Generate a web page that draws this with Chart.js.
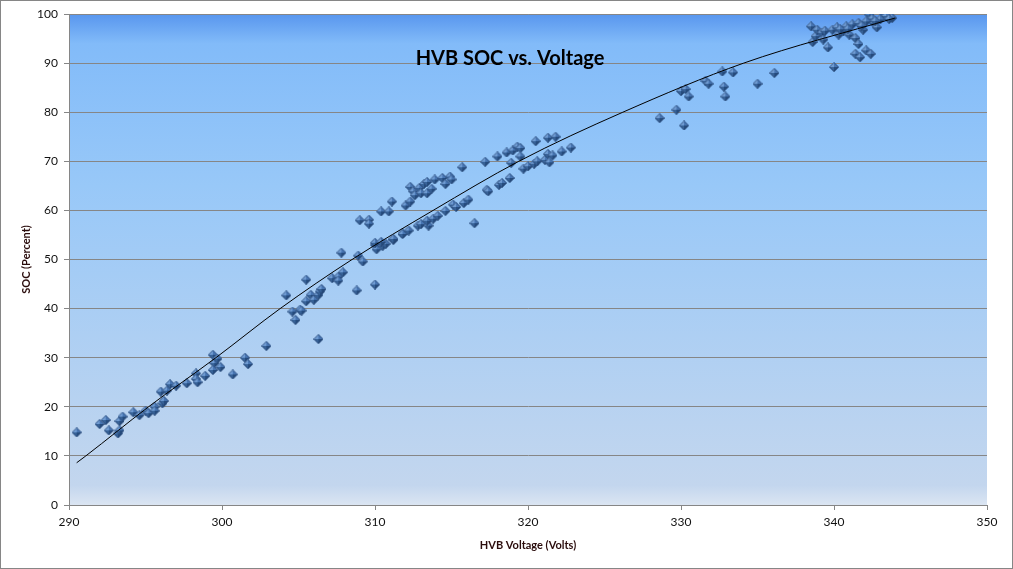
<!DOCTYPE html>
<html>
<head>
<meta charset="utf-8">
<title>HVB SOC vs. Voltage</title>
<script src="https://cdn.jsdelivr.net/npm/chart.js@4/dist/chart.umd.min.js"></script>
<style>
  html, body { margin: 0; padding: 0; background: #fff; overflow: hidden; }
  #wrap { width: 1013px; height: 569px; }
</style>
</head>
<body>
<div id="wrap"><canvas id="socChart" width="1013" height="569"></canvas></div>
<script>
// measured points: battery voltage (V) and state of charge (%)
let voltage = [
    290.5, 292.0, 292.4, 292.6, 293.2, 293.3, 293.3, 293.5, 294.2, 294.6,
    295.0, 295.2, 295.6, 295.6, 296.0, 296.1, 296.2, 296.4, 296.6, 297.0,
    297.7, 298.3, 298.3, 298.4, 298.9, 299.4, 299.5, 299.7, 299.4, 299.9,
    300.7, 301.5, 301.7, 302.9, 304.2, 304.6, 304.8, 305.1, 305.2, 305.5,
    305.5, 305.8, 306.0, 306.3, 306.4, 306.5, 306.3, 307.2, 307.6, 307.6,
    307.9, 307.8, 308.8, 308.9, 309.2, 310.0, 310.0, 310.1, 310.5, 310.7,
    311.2, 311.8, 309.0, 309.6, 309.6, 310.4, 310.9, 311.1, 310.0, 310.4,
    311.2, 311.8, 312.2, 312.8, 313.0, 313.5, 313.4, 313.8, 314.1, 314.6,
    315.1, 315.3, 315.8, 316.1, 316.5, 312.0, 312.3, 312.3, 312.5, 312.6,
    312.9, 313.0, 313.2, 313.4, 313.4, 313.7, 313.9, 314.4, 314.6, 314.9,
    315.0, 315.7, 317.2, 317.3, 317.4, 318.0, 318.1, 318.3, 318.8, 318.6,
    319.0, 319.3, 319.5, 319.5, 318.9, 319.7, 320.0, 320.4, 320.6, 320.5,
    321.1, 321.3, 321.3, 321.6, 321.4, 321.8, 322.2, 322.8, 328.6, 329.7,
    330.2, 330.0, 330.3, 330.5, 331.6, 331.8, 332.7, 332.8, 332.9, 333.4,
    335.0, 336.1, 338.5, 338.6, 338.8, 338.9, 339.2, 339.3, 339.6, 339.4,
    339.9, 340.0, 340.2, 340.3, 340.6, 340.8, 341.0, 341.2, 341.4, 341.4,
    341.6, 341.7, 341.6, 341.9, 342.1, 342.4, 342.3, 342.5, 342.6, 342.8,
    343.3, 343.4, 343.8, 343.0, 342.1, 340.4, 340.9, 341.8, 342.7, 343.6
];
let soc = [
    14.8, 16.5, 17.3, 15.2, 14.6, 15.2, 17.1, 18.0, 18.9, 18.3,
    19.2, 18.7, 20.0, 19.2, 23.1, 20.7, 21.2, 23.3, 24.6, 24.3,
    24.8, 26.8, 25.7, 25.0, 26.3, 30.6, 28.9, 29.8, 27.5, 28.1,
    26.6, 30.0, 28.7, 32.4, 42.7, 39.4, 37.7, 39.8, 39.6, 41.5,
    45.9, 42.8, 41.8, 42.8, 43.5, 44.0, 33.8, 46.2, 46.5, 45.7,
    47.4, 51.4, 43.7, 50.8, 49.6, 44.9, 53.0, 52.1, 52.8, 53.2,
    54.0, 55.3, 58.0, 58.1, 57.3, 59.8, 59.8, 61.8, 53.4, 53.6,
    54.2, 55.2, 55.9, 56.9, 57.2, 56.9, 57.9, 58.3, 58.9, 59.9,
    61.2, 60.7, 61.5, 62.2, 57.4, 61.0, 61.8, 64.8, 63.9, 63.1,
    64.6, 63.5, 65.4, 65.8, 63.5, 64.4, 66.3, 66.6, 65.4, 66.9,
    66.3, 68.8, 69.9, 64.2, 63.9, 71.0, 65.2, 65.6, 66.6, 71.8,
    72.2, 73.0, 72.7, 71.0, 69.7, 68.5, 69.0, 69.5, 70.0, 74.1,
    70.3, 71.5, 74.8, 71.2, 69.8, 75.0, 72.0, 72.8, 78.8, 80.5,
    77.3, 84.3, 84.7, 83.2, 86.4, 85.8, 88.3, 85.2, 83.2, 88.1,
    85.8, 88.0, 97.5, 94.3, 95.5, 96.8, 96.2, 94.8, 93.2, 96.6,
    96.8, 89.2, 97.3, 95.8, 96.5, 97.5, 95.8, 97.9, 95.1, 91.9,
    93.9, 91.2, 98.2, 96.8, 92.6, 91.9, 99.9, 99.1, 98.2, 97.3,
    100.0, 99.6, 99.2, 98.9, 98.5, 96.9, 97.0, 97.6, 98.6, 99.0
];

// polynomial trendline
let trendVolts = [290.5, 291.1, 295.2, 299.6, 303.8, 308.5, 313.8, 319.4, 326.2, 334.1, 344.0];
let trendSoc   = [8.6, 10.0, 20.0, 30.0, 40.0, 50.0, 60.0, 70.0, 80.0, 90.0, 99.2];

let xTicks = [290, 300, 310, 320, 330, 340, 350];
let yTicks = [0, 10, 20, 30, 40, 50, 60, 70, 80, 90, 100];

let chartTitle = "HVB SOC vs. Voltage";
let xTitle = "HVB Voltage (Volts)";
let yTitle = "SOC (Percent)";

// shaded diamond marker (pyramid look)
const makeMarker = () => {
    let c = document.createElement('canvas');
    c.width = 10; c.height = 10;
    let g = c.getContext('2d');
    let m = 5;
    let faces = [
        [[m, 0], [0, m], '#6f9bd2'],
        [[m, 0], [10, m], '#4876b3'],
        [[0, m], [m, 10], '#386399'],
        [[10, m], [m, 10], '#264c7e']
    ];
    faces.forEach(f => {
        g.beginPath();
        g.moveTo(m, m);
        g.lineTo(f[0][0], f[0][1]);
        g.lineTo(f[1][0], f[1][1]);
        g.closePath();
        g.fillStyle = f[2];
        g.fill();
    });
    g.beginPath();
    g.moveTo(m, 0.5); g.lineTo(9.5, m); g.lineTo(m, 9.5); g.lineTo(0.5, m); g.closePath();
    g.strokeStyle = 'rgba(35,62,105,0.6)';
    g.lineWidth = 1;
    g.stroke();
    return c;
};

const chartDecor = {
    id: 'chartDecor',
    beforeDraw(chart) {
        const {ctx, chartArea: a} = chart;
        let grad = ctx.createLinearGradient(0, a.top, 0, a.bottom);
        grad.addColorStop(0, '#5896ee');
        grad.addColorStop(0.06, '#82bbf9');
        grad.addColorStop(0.35, '#98c8f8');
        grad.addColorStop(0.96, '#c3d6ee');
        grad.addColorStop(1, '#dbe5f2');
        ctx.save();
        ctx.fillStyle = grad;
        ctx.fillRect(a.left, a.top, a.right - a.left, a.bottom - a.top);
        ctx.restore();
    },
    afterDatasetsDraw(chart) {
        const {ctx} = chart;
        ctx.save();
        ctx.font = 'bold 20px Lato, "Liberation Sans", sans-serif';
        ctx.fillStyle = '#000';
        ctx.textAlign = 'center';
        ctx.textBaseline = 'alphabetic';
        ctx.fillText(chartTitle, 510, 65);
        ctx.restore();
    },
    afterDraw(chart) {
        const {ctx} = chart;
        ctx.save();
        ctx.strokeStyle = '#868686';
        ctx.lineWidth = 1;
        ctx.strokeRect(0.5, 0.5, chart.width - 1, chart.height - 1);
        ctx.restore();
    }
};

let points = voltage.map((v, i) => ({x: v, y: soc[i]}));
let trend = trendVolts.map((v, i) => ({x: v, y: trendSoc[i]}));

let tickFont = {family: 'Lato, "Liberation Sans", sans-serif', size: 12};
let titleFont = {family: 'Lato, "Liberation Sans", sans-serif', size: 11, weight: 'bold'};

new Chart(document.getElementById('socChart'), {
    type: 'scatter',
    data: {
        datasets: [{
            type: 'line',
            data: trend,
            order: 0,
            borderColor: '#000',
            borderWidth: 1,
            pointRadius: 0,
            fill: false,
            cubicInterpolationMode: 'monotone',
            showLine: true
        }, {
            data: points,
            order: 1,
            pointStyle: makeMarker(),
            pointRadius: 5,
            showLine: false
        }]
    },
    options: {
        responsive: false,
        animation: false,
        events: [],
        layout: {padding: {top: 14, right: 26, left: 0, bottom: 0}},
        plugins: {
            legend: {display: false},
            tooltip: {enabled: false},
            title: {display: false}
        },
        scales: {
            x: {
                type: 'linear',
                min: 290,
                max: 350,
                afterBuildTicks: s => { s.ticks = xTicks.map(v => ({value: v})); },
                afterFit: s => { s.height = 64; },
                grid: {drawOnChartArea: false, drawTicks: true, tickLength: 5, tickColor: '#868686'},
                border: {color: '#868686'},
                ticks: {color: '#111', font: tickFont, padding: 5, maxRotation: 0},
                title: {display: true, text: xTitle, color: '#2a0c0c', font: titleFont, padding: {top: 0, bottom: 17}}
            },
            y: {
                type: 'linear',
                min: 0,
                max: 100,
                afterBuildTicks: s => { s.ticks = yTicks.map(v => ({value: v})); },
                afterFit: s => { s.width = 69; },
                grid: {color: '#868686', drawTicks: true, tickLength: 5, tickColor: '#868686'},
                border: {color: '#868686'},
                ticks: {color: '#111', font: tickFont, padding: 6},
                title: {display: true, text: yTitle, color: '#2a0c0c', font: titleFont, padding: {top: 20, bottom: 0}}
            }
        }
    },
    plugins: [chartDecor]
});
</script>
</body>
</html>
